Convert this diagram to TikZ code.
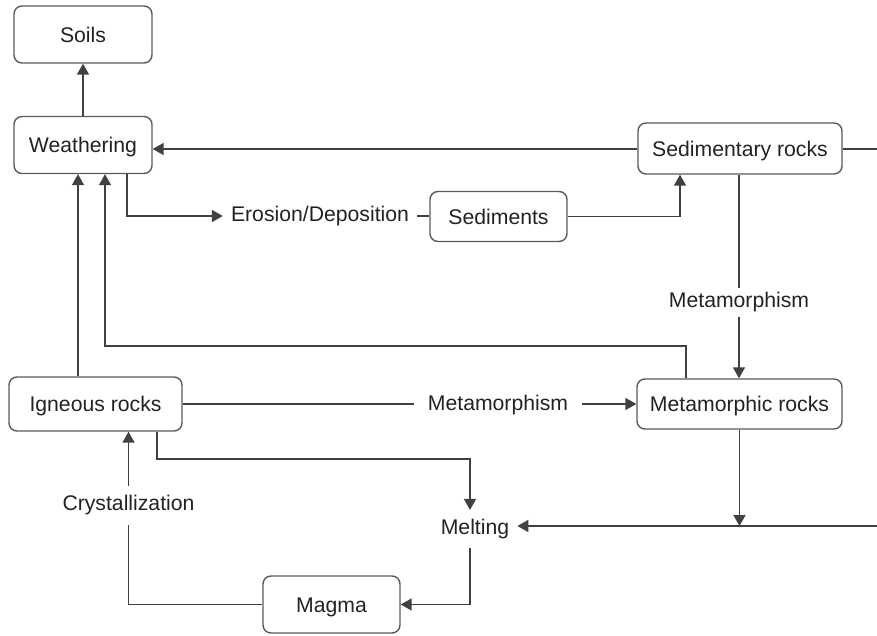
\documentclass[tikz,border=0pt]{standalone}
\usepackage{fontspec}
\setmainfont{Liberation Sans}
\usetikzlibrary{arrows.meta}
\definecolor{boxgray}{HTML}{5A5A5A}
\definecolor{linegray}{HTML}{404040}
\definecolor{txt}{HTML}{222222}
\begin{document}
\begin{tikzpicture}[x=1pt,y=-1pt,
  font=\fontsize{21.2}{25}\selectfont,
  box/.style={draw=boxgray, line width=1.4pt, rounded corners=8pt, text=txt,
    text height=15.2pt, text depth=0pt, inner sep=0pt, anchor=center},
  lbl/.style={text=txt, inner xsep=8pt, inner ysep=6pt},
  conn/.style={draw=linegray, line width=1.5pt},
  arr/.style={conn, -{Triangle[length=11pt,width=12pt]}}
]
\useasboundingbox (0,0) rectangle (877,636);

% boxes
\node[box, minimum width=138pt, minimum height=57pt] (soils) at (83,34.5) {Soils};
\node[box, minimum width=138pt, minimum height=57pt] (weath) at (83,145) {Weathering};
\node[box, minimum width=204pt, minimum height=51pt] (sedr) at (740,148.5) {Sedimentary rocks};
\node[box, minimum width=137pt, minimum height=50pt] (sedi) at (498.5,216.5) {Sediments};
\node[box, minimum width=173pt, minimum height=54pt] (ign) at (95.5,404) {Igneous rocks};
\node[box, minimum width=205pt, minimum height=50pt] (metr) at (739.5,404) {Metamorphic rocks};
\node[box, minimum width=137pt, minimum height=57pt] (magma) at (331.5,604.5) {Magma};

% labels
\node[lbl] (eros) at (320,216) {Erosion/Deposition};
\node[lbl, inner ysep=4pt] (meta1) at (739,302.5) {Metamorphism};
\node[lbl, inner xsep=14pt] (meta2) at (498,405) {Metamorphism};
\node[lbl, inner ysep=9pt] (melt) at (475,529) {Melting};
\node[lbl, inner ysep=9pt] (cryst) at (128.5,505.5) {Crystallization};

% helper coordinates
\coordinate (rt) at (877,149);
\coordinate (rb) at (877,526);
\coordinate (jn) at (739.5,526);
\coordinate (bend1) at (105,346);
\coordinate (bend2) at (470,459);

% connectors
\draw[arr] (weath.north) -- (soils.south);
\draw[arr] (sedr.west |- rt) -- (weath.east |- rt);
\draw[conn] (sedr.east |- rt) -- (rt);
\draw[arr] ([xshift=44pt]weath.south) |- (eros.west);
\draw[conn] (eros.east) -- (sedi.west |- eros.east);
\draw[arr] (sedi.east) -| ([xshift=-60pt]sedr.south);
\draw[conn] (meta1.north |- sedr.south) -- (meta1.north);
\draw[arr] (meta1.south) -- (meta1.south |- metr.north);
\draw[arr] ([xshift=-53.5pt]metr.north) |- (bend1) -- (bend1 |- weath.south);
\draw[arr] ([xshift=-17.5pt]ign.north) -- ([xshift=-5pt]weath.south);
\draw[conn] (ign.east) -- (ign.east -| meta2.west);
\draw[arr] (meta2.east |- metr.west) -- (metr.west);
\draw[arr] ([xshift=61.5pt]ign.south) |- (bend2) -- (bend2 |- melt.north);
\draw[arr] (rb) -- (melt.east |- rb);
\draw[arr] (metr.south) -- (jn);
\draw[arr] (bend2 |- melt.south) |- (magma.east);
\draw[conn] (magma.west) -| (cryst.south);
\draw[arr] (cryst.north) -- (cryst.north |- ign.south);
\end{tikzpicture}
\end{document}
